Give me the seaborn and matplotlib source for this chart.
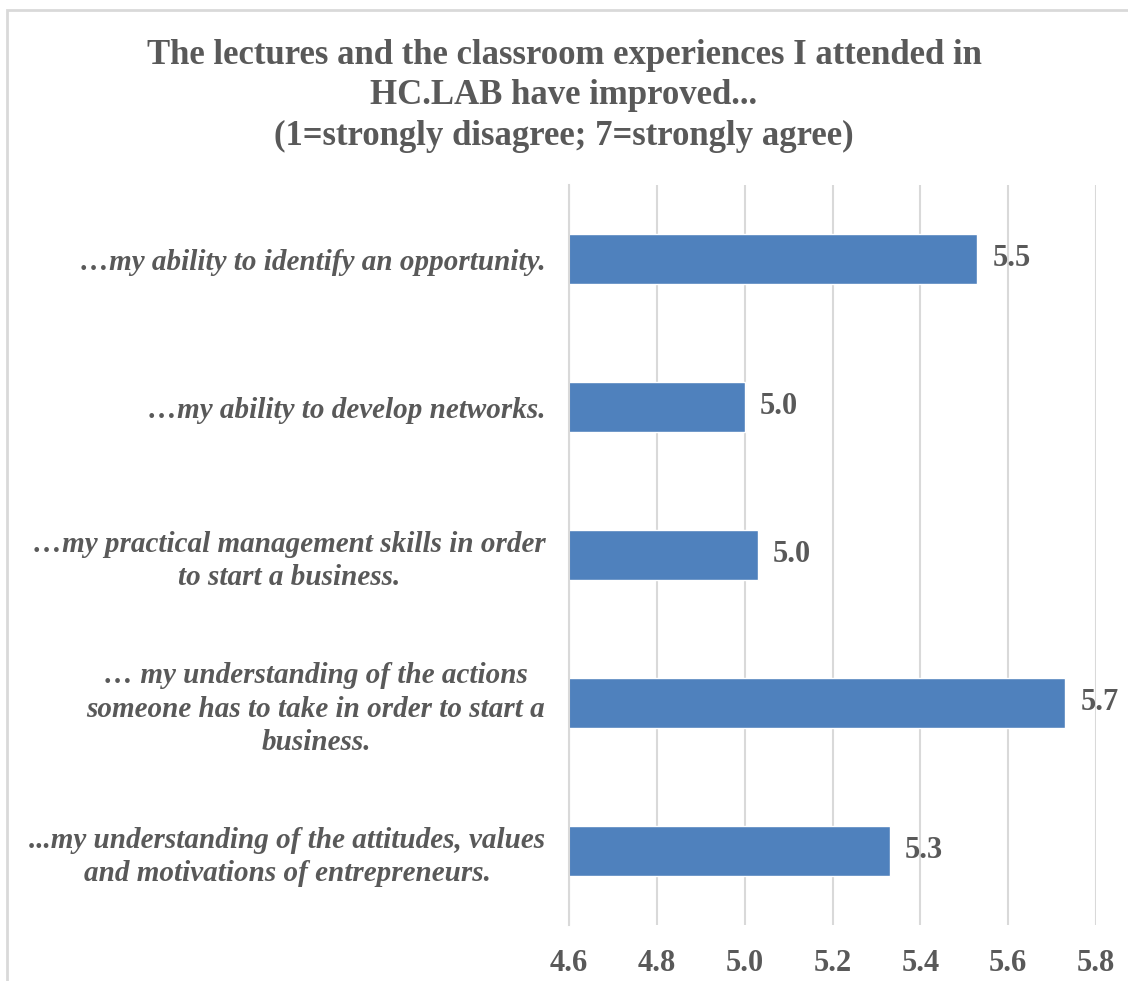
import matplotlib
matplotlib.use("Agg")
import matplotlib.pyplot as plt
import seaborn as sns
import pandas as pd
from matplotlib.patches import Rectangle

categories = [
    "…my ability to identify an opportunity.",
    "…my ability to develop networks.",
    "…my practical management skills in order\nto start a business.",
    "… my understanding of the actions\nsomeone has to take in order to start a\nbusiness.",
    "...my understanding of the attitudes, values\nand motivations of entrepreneurs.",
]
values = [5.53, 5.00, 5.03, 5.73, 5.33]
xticks = [4.6, 4.8, 5.0, 5.2, 5.4, 5.6, 5.8]
title = ("The lectures and the classroom experiences I attended in\n"
         "HC.LAB have improved...\n(1=strongly disagree; 7=strongly agree)")

sns.set_style("white")
plt.rcParams['font.family'] = ['Liberation Serif', 'DejaVu Serif']

TXT = "#595959"
BAR = "#4F81BD"
GRID = "#D9D9D9"

df = pd.DataFrame({"cat": categories, "val": values})

fig = plt.figure(figsize=(11.28, 9.81), dpi=100)
ax = fig.add_axes([569/1128, 56/981, 527/1128, 740/981])

sns.barplot(data=df, x="val", y="cat", orient="h", color=BAR, width=0.34,
            saturation=1, ax=ax, order=categories)

ax.set_xlim(4.6, 5.8)
ax.set_xticks(xticks)
ax.set_xticklabels([f"{t:.1f}" for t in xticks], fontsize=22, fontweight="bold", color=TXT)
ax.tick_params(axis="x", length=0, pad=17)
ax.tick_params(axis="y", length=0, pad=17)
for lbl in ax.get_yticklabels():
    lbl.set_fontsize(21)
    lbl.set_fontstyle("italic")
    lbl.set_fontweight("bold")
    lbl.set_color(TXT)
    lbl.set_multialignment("center")
    lbl.set_linespacing(1.3)

ax.grid(axis="x", color=GRID, linewidth=1.5)
ax.set_axisbelow(True)
for s in ["top", "right", "bottom"]:
    ax.spines[s].set_visible(False)
ax.spines["left"].set_color(GRID)
ax.spines["left"].set_linewidth(1.5)
ax.set_xlabel("")
ax.set_ylabel("")

for cont in ax.containers:
    ax.bar_label(cont, fmt="%.1f", padding=11, fontsize=22, fontweight="bold", color=TXT)

fig.text(0.5, 1 - 96/981, title, ha="center", va="center", fontsize=25,
         fontweight="bold", color=TXT, linespacing=1.3)

fig.patches.append(Rectangle((7/1128, -0.5), 2, (981-10)/981 + 0.5, transform=fig.transFigure,
                             fill=False, edgecolor="#D9D9D9", linewidth=2))

fig.savefig("out.png", dpi=100)
